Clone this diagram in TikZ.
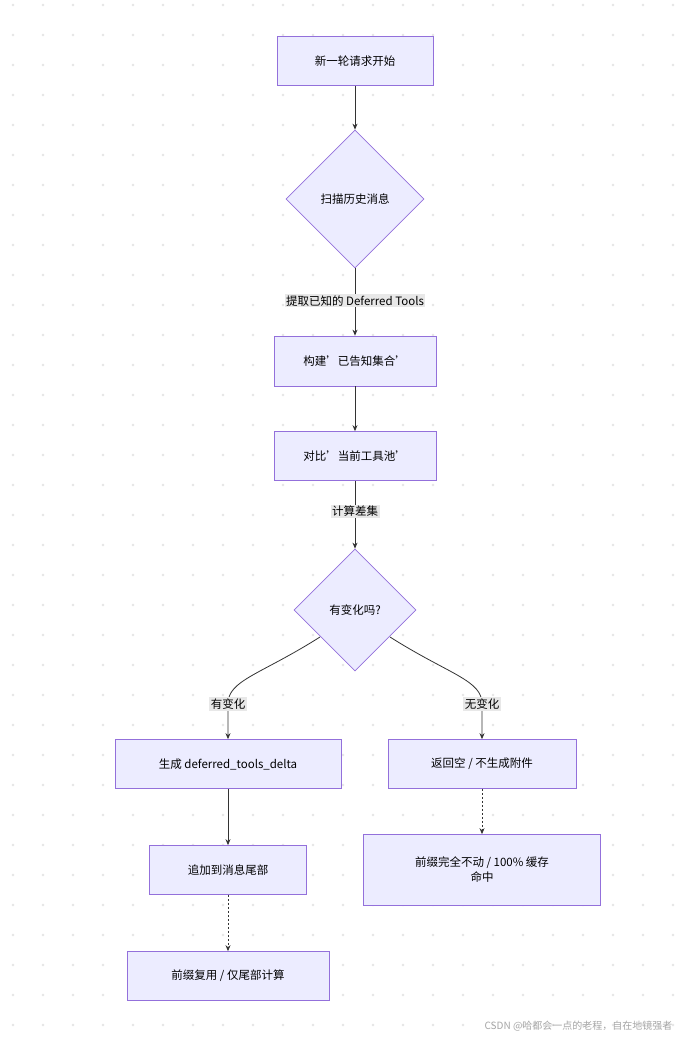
\documentclass[tikz,border=0pt]{standalone}
\usepackage{fontspec}
\setmainfont{Noto Sans CJK SC}
\usetikzlibrary{shapes.geometric,arrows.meta}
\definecolor{nodefill}{HTML}{ECECFF}
\definecolor{nodeline}{HTML}{9370DB}
\definecolor{edge}{HTML}{333333}
\definecolor{lblbg}{HTML}{E8E8E8}
\newcommand{\sq}{{\char"27}}
\begin{document}
\begin{tikzpicture}[x=1pt,y=-1pt,font=\fontsize{11.5}{15}\selectfont,
  box/.style={draw=nodeline,fill=nodefill,line width=0.7pt,minimum height=49pt,align=center},
  dia/.style={diamond,draw=nodeline,fill=nodefill,line width=0.7pt,aspect=1,inner sep=0pt},
  lbl/.style={fill=lblbg,inner sep=1.5pt,text=black},
  arr/.style={draw=edge,line width=0.8pt,-{Stealth[length=6pt,width=5pt]}},
  dot/.style={arr,dash pattern=on 2pt off 2pt}]
\useasboundingbox (0,0) rectangle (683,1040);
\fill[white] (0,0) rectangle (683,1040);
\foreach \i in {0,...,22}{\foreach \j in {0,...,34}{\fill[gray!20] (13+30*\i,5+30*\j) circle (1.3pt);}}
\node[box,minimum width=156pt] (s) at (355,61) {新一轮请求开始};
\node[dia,minimum width=138pt,minimum height=138pt] (d1) at (355,199) {扫描历史消息};
\node[box,minimum width=162pt,minimum height=50pt] (b) at (355,361) {构建\sq 已告知集合\sq};
\node[box,minimum width=162pt] (c) at (355,456) {对比\sq 当前工具池\sq};
\node[dia,minimum width=122pt,minimum height=122pt] (d2) at (355,610) {有变化吗?};
\node[box,minimum width=226pt] (g) at (228,764) {生成 deferred\_tools\_delta};
\node[box,minimum width=188pt] (r) at (482,764) {返回空 / 不生成附件};
\node[box,minimum width=157pt] (a) at (228,870) {追加到消息尾部};
\node[box,minimum width=237pt,minimum height=71pt] (p) at (482,870) {前缀完全不动 / 100\% 缓存\\命中};
\node[box,minimum width=202pt] (u) at (228,976) {前缀复用 / 仅尾部计算};
\draw[arr] (s) -- (d1);
\draw[arr] (d1) -- node[lbl,pos=0.48]{提取已知的 Deferred Tools} (b);
\draw[arr] (b) -- (c);
\draw[arr] (c) -- node[lbl,pos=0.45]{计算差集} (d2);
\coordinate (l1) at (320,637); \coordinate (l2) at (390,637);
\coordinate (m1) at (228,704); \coordinate (m2) at (482,704);
\draw[arr] (l1) .. controls (260,675) and (228,680) .. (m1) -- (g.north);
\draw[arr] (l2) .. controls (450,675) and (482,680) .. (m2) -- (r.north);
\node[lbl] (t1) at (m1) {有变化};
\node[lbl] (t2) at (m2) {无变化};
\draw[arr] (g) -- (a);
\draw[dot] (a) -- (u);
\draw[dot] (r) -- (p);
\node[text=gray!70,font=\fontsize{10}{12}\selectfont,anchor=east] (w) at (676,1026) {CSDN @哈都会一点的老程，自在地镜强者};
\end{tikzpicture}
\end{document}
